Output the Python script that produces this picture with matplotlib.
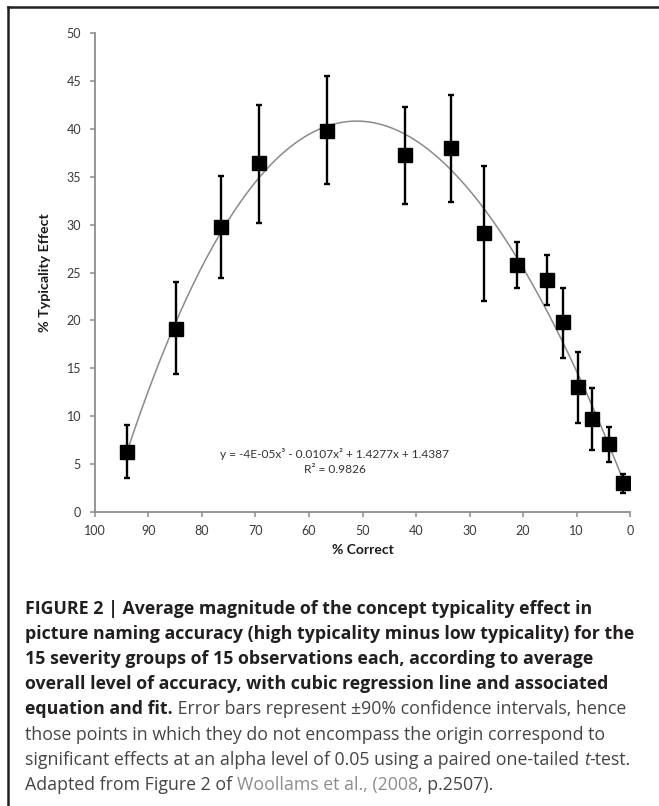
import numpy as np
import matplotlib
matplotlib.use("Agg")
import matplotlib.pyplot as plt
from matplotlib.lines import Line2D

# ---- data ----
pct_correct = [94.0, 84.8, 76.4, 69.3, 56.7, 42.1, 33.4, 27.3, 21.1, 15.5, 12.5, 9.7, 7.1, 3.9, 1.3]
typicality = [6.3, 19.1, 29.8, 36.4, 39.8, 37.3, 38.0, 29.1, 25.8, 24.2, 19.8, 13.0, 9.7, 7.1, 3.0]
ci_low = [3.6, 14.4, 24.4, 30.2, 34.2, 32.2, 32.4, 22.0, 23.4, 21.6, 16.1, 9.3, 6.5, 5.2, 2.0]
ci_high = [9.1, 24.0, 35.1, 42.5, 45.5, 42.3, 43.5, 36.1, 28.2, 26.8, 23.4, 16.7, 12.9, 8.9, 4.0]
x_ticks = [100, 90, 80, 70, 60, 50, 40, 30, 20, 10, 0]
y_ticks = [0, 5, 10, 15, 20, 25, 30, 35, 40, 45, 50]
equation_text = "y = -4E-05x³ - 0.0107x² + 1.4277x + 1.4387"
r2_text = "R² = 0.9826"

W, H = 659, 806
fig = plt.figure(figsize=(W / 100, H / 100), dpi=100)
fig.patch.set_facecolor("white")

# frame lines (top and left)
frame_col = "#231f20"
fig.add_artist(Line2D([8 / W, 1], [1 - 7 / H, 1 - 7 / H], color=frame_col, lw=1.8,
                      transform=fig.transFigure))
fig.add_artist(Line2D([8 / W, 8 / W], [1 - 7 / H, 0], color=frame_col, lw=1.8,
                      transform=fig.transFigure))

ax = fig.add_axes([95 / W, 1 - 512 / H, (630 - 95) / W, (512 - 33) / H])
ax.set_xlim(100, 0)
ax.set_ylim(0, 50)

x = np.array(pct_correct)
y = np.array(typicality)
yerr = np.array([y - np.array(ci_low), np.array(ci_high) - y])

# cubic regression line
coef = np.polyfit(x, y, 3)
xs = np.linspace(x.max(), x.min(), 300)
ax.plot(xs, np.polyval(coef, xs), color="#8a8a8a", lw=1.1, zorder=2)

ax.errorbar(x, y, yerr=yerr, fmt="s", color="black", ms=9.5, ecolor="black",
            elinewidth=1.7, capsize=2.3, capthick=1.7, zorder=3)

for side in ["top", "right"]:
    ax.spines[side].set_visible(False)
for side in ["left", "bottom"]:
    ax.spines[side].set_color("#8c8c8c")
    ax.spines[side].set_linewidth(1.3)

tick_font = "Lato"
ax.set_xticks(x_ticks)
ax.set_yticks(y_ticks)
ax.set_xticklabels([str(t) for t in x_ticks], family=tick_font, fontsize=9, color="#3a3a3a")
ax.set_yticklabels([str(t) for t in y_ticks], family=tick_font, fontsize=9, color="#3a3a3a")
ax.tick_params(axis="both", direction="out", length=3.6, width=1.1, color="#8c8c8c")
ax.tick_params(axis="y", pad=6.5)
ax.tick_params(axis="x", pad=5.5)

ax.set_xlabel("% Correct", family=tick_font, fontweight="bold", fontsize=10,
              color="#1a1a1a", labelpad=5)
ax.set_ylabel("% Typicality Effect", family=tick_font, fontweight="bold", fontsize=10.3,
              color="#1a1a1a", labelpad=11)

ax.text(335 / W, 1 - 454 / H, equation_text, transform=fig.transFigure, ha="center",
        va="center", family=tick_font, fontsize=8.6, color="#333333")
ax.text(335 / W, 1 - 470 / H, r2_text, transform=fig.transFigure, ha="center",
        va="center", family=tick_font, fontsize=8.6, color="#333333")

# ---- caption ----
cap_font = "Open Sans"
cap_size = 12.8
bold_col = "#231f20"
reg_col = "#454545"
link_col = "#8c8c8c"

caption_lines = [
    [("FIGURE 2 | Average magnitude of the concept typicality effect in", "bold", "normal", bold_col)],
    [("picture naming accuracy (high typicality minus low typicality) for the", "bold", "normal", bold_col)],
    [("15 severity groups of 15 observations each, according to average", "bold", "normal", bold_col)],
    [("overall level of accuracy, with cubic regression line and associated", "bold", "normal", bold_col)],
    [("equation and fit.", "bold", "normal", bold_col),
     (" Error bars represent ±90% confidence intervals, hence", "normal", "normal", reg_col)],
    [("those points in which they do not encompass the origin correspond to", "normal", "normal", reg_col)],
    [("significant effects at an alpha level of 0.05 using a paired one-tailed ", "normal", "normal", reg_col),
     ("t", "normal", "italic", reg_col),
     ("-test.", "normal", "normal", reg_col)],
    [("Adapted from Figure 2 of ", "normal", "normal", reg_col),
     ("Woollams et al., (2008", "normal", "normal", link_col),
     (", p.2507).", "normal", "normal", reg_col)],
]

fig.canvas.draw()
renderer = fig.canvas.get_renderer()
base0 = 614
step = 25.1
for i, runs in enumerate(caption_lines):
    xpix = 25.0
    ybase = 1 - (base0 + i * step) / H
    for txt, wt, st, col in runs:
        t = fig.text(xpix / W, ybase, txt, family=cap_font, fontweight=wt, fontstyle=st,
                     fontsize=cap_size, color=col, ha="left", va="baseline")
        w, _, _ = renderer.get_text_width_height_descent(
            txt.replace(" ", "\u00a0"), t.get_fontproperties(), ismath=False)
        xpix += w

fig.savefig("out.png", dpi=100, facecolor="white")
